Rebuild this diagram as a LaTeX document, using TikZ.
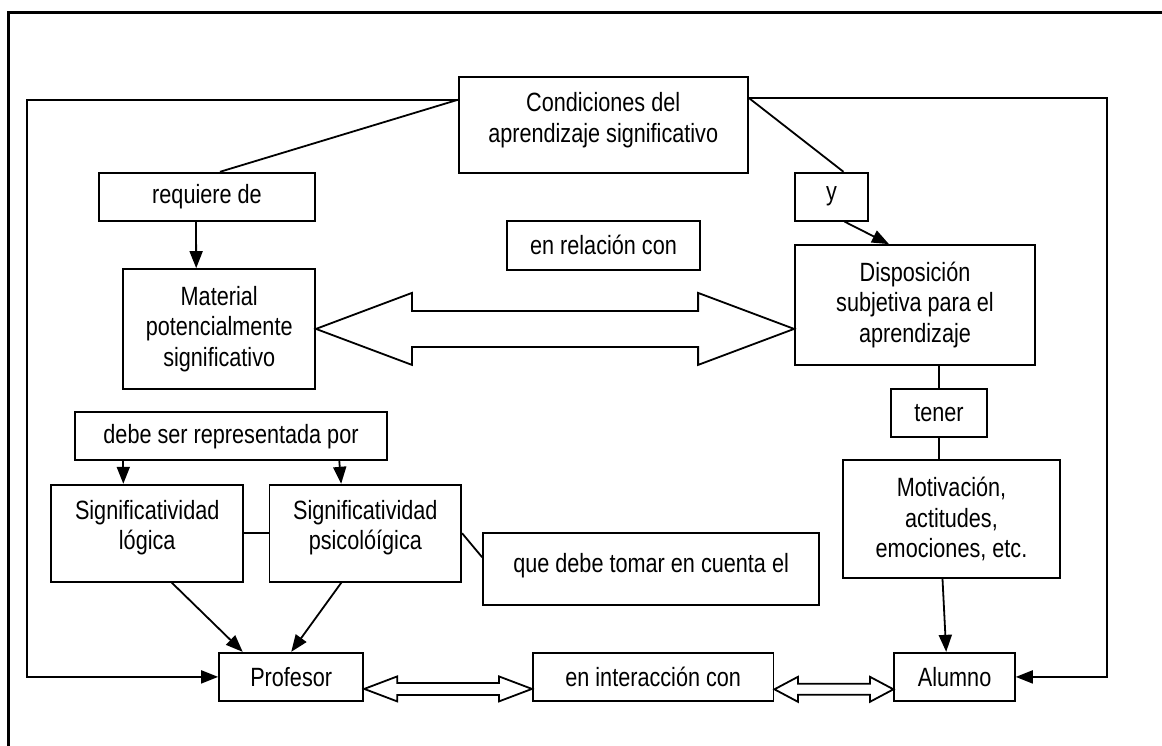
\documentclass[tikz,border=0pt]{standalone}
\usepackage{fontspec}
\setmainfont{Liberation Sans}[FakeStretch=0.82]
\usetikzlibrary{arrows.meta,calc,positioning}

\tikzset{
  box/.style={draw, line width=1.8pt, inner sep=0pt, align=center},
  link/.style={line width=1.8pt},
  arr/.style={line width=1.8pt, -{Triangle[length=17pt,width=13pt]}},
  hollow/.style={line width=1.8pt, line join=miter}
}

% hollow double arrow: from, to, head length, head half height, shaft half height
\newcommand{\dblarrow}[5]{%
  \draw[hollow] (#1) -- ($(#1)+(#3,-#4)$) -- ($(#1)+(#3,-#5)$)
    -- ($(#2)+(-#3,-#5)$) -- ($(#2)+(-#3,-#4)$) -- (#2)
    -- ($(#2)+(-#3,#4)$) -- ($(#2)+(-#3,#5)$)
    -- ($(#1)+(#3,#5)$) -- ($(#1)+(#3,#4)$) -- cycle;}

\begin{document}
\begin{tikzpicture}[x=1pt, y=-1pt, font=\fontsize{26.4}{30.5}\selectfont]
\useasboundingbox (0,0) rectangle (1162,745);
\clip (0,0) rectangle (1162,745);
\draw[line width=2.5pt] (8.3,12.7) rectangle (1180,770);

% top part
\node (cond) [box, minimum width=289pt, minimum height=96pt, text depth=15pt] at (603.2,124.7) {Condiciones del\\aprendizaje significativo};
\node (req) [box, minimum width=216pt, minimum height=48pt] at (207,196.7) {requiere de};
\node (yy) [box, minimum width=73pt, minimum height=48pt] at (831.5,196.7) {y};
\node (rel) [box, minimum width=193pt, minimum height=49pt] at (603.5,245.2) {en relación con};
\node (mat) [box, minimum width=191.7pt, minimum height=119.7pt] at (219.2,328.9) {Material\\potencialmente\\significativo};
\node (disp) [box, minimum width=240pt, minimum height=119.7pt] at (915,304.9) {Disposición\\subjetiva para el\\aprendizaje};

% right column
\node (tener) [box, minimum width=96.6pt, minimum height=48.3pt] at (939,412.9) {tener};
\node (motiv) [box, minimum width=216.4pt, minimum height=117.7pt] at (951.5,519.2) {Motivación,\\actitudes,\\emociones, etc.};

% left column
\node (debe) [box, minimum width=312pt, minimum height=48pt] at (231,436.3) {debe ser representada por};
\node (logi) [box, minimum width=192.3pt, minimum height=97pt, text depth=17pt] at (147.2,533.2) {Significatividad\\lógica};
\node (psic) [box, minimum width=191.6pt, minimum height=97pt, text depth=17pt, right=24.4pt of logi] {Significatividad\\psicolóígica};
\node (tomar) [box, minimum width=336.2pt, text height=38.7pt, text depth=33pt] at (651.1,569.2) {que debe tomar en cuenta el};

% bottom row
\node (prof) [box, minimum width=144.3pt, minimum height=48.3pt] at (291.2,676.9) {Profesor};
\node (inter) [box, minimum width=240.7pt, minimum height=48.3pt, right=167.7pt of prof] {en interacción con};
\node (alum) [box, minimum width=120.5pt, minimum height=48.3pt, right=119pt of inter] {Alumno};

\coordinate (cl) at ($(cond.north west)+(0,24)$);
\coordinate (cr) at ($(cond.north east)+(0,22)$);
\coordinate (lft) at (26.7,400);
\coordinate (rgt) at (1107.3,400);

\draw[link] (cl) -- ($(req.north)+(13,0)$);
\draw[link] (cr) -- ($(yy.north)+(12,0)$);
\draw[arr] ($(req.south)+(-11,0)$) -- ($(mat.north)+(-23,0)$);
\draw[arr] ($(yy.south)+(13,0)$) -- ($(disp.north)+(-26,0)$);

\coordinate (mr) at (mat.east -| disp.west);
\dblarrow{mat.east}{mr}{96}{36}{18}

\draw[link] (tener.north |- disp.south) -- (tener.north);
\draw[link] (tener.south) -- (tener.south |- motiv.north);
\draw[arr] ($(motiv.south)+(-9,0)$) -- ($(alum.north)+(-8.4,0)$);

\draw[arr] ($(debe.south)+(-107.7,0)$) -- ($(logi.north)+(-23.9,0)$);
\draw[arr] ($(debe.south)+(108.3,0)$) -- ($(psic.north)+(-24.2,0)$);
\draw[link] (logi.east) -- (psic.west);
\draw[link] (psic.east) -- ($(tomar.west)+(0,-12)$);
\draw[arr] ($(logi.south)+(24.5,0)$) -- ($(prof.north)+(-48.5,0)$);
\draw[arr] ($(psic.south)+(-24,0)$) -- (prof.north);

\coordinate (pa) at ($(prof.east)+(0,12)$);
\coordinate (pb) at ($(inter.west)+(0,12)$);
\coordinate (pc) at ($(inter.east)+(0,12.4)$);
\coordinate (pd) at ($(alum.west)+(0,12.4)$);
\dblarrow{pa}{pb}{33}{12.5}{6}
\dblarrow{pc}{pd}{23.5}{12.5}{5.5}

% outer loops
\draw[arr] (cl) -| (lft) |- (prof.west);
\draw[arr] (cr) -| (rgt) |- (alum.east);
\end{tikzpicture}
\end{document}
